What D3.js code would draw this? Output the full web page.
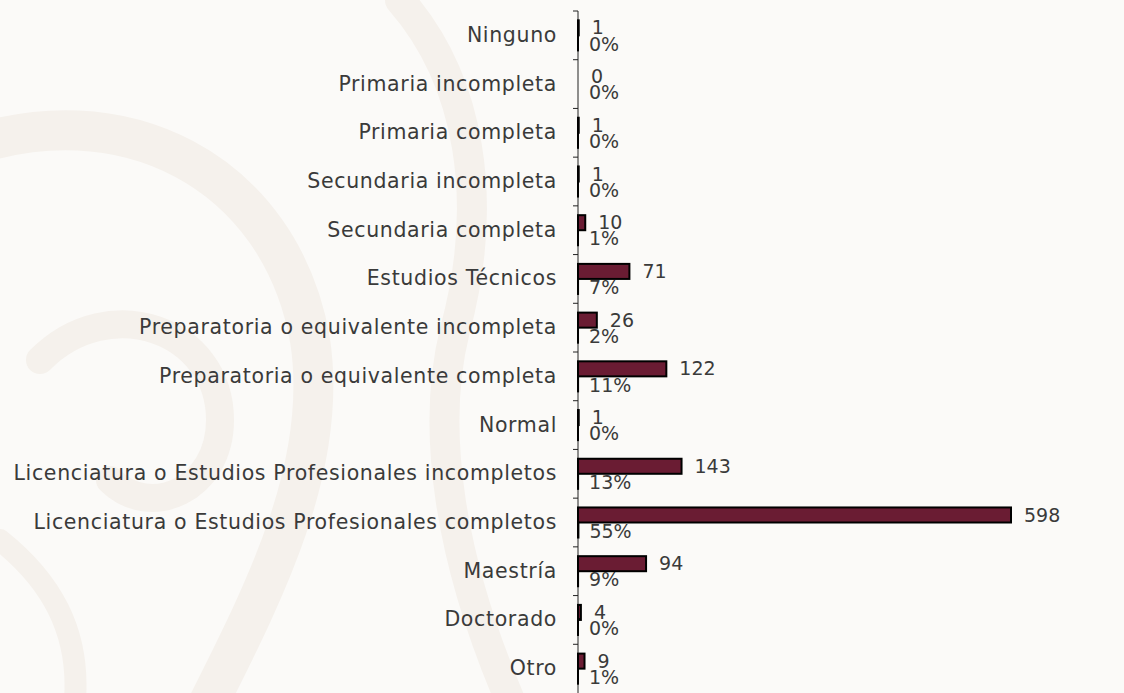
<!DOCTYPE html>
<html>
<head>
<meta charset="utf-8">
<script src="https://cdn.jsdelivr.net/npm/d3@7"></script>
<style>
  body { margin: 0; background: #fbfaf8; }
  svg { display: block; }
</style>
</head>
<body>
<div id="chart"></div>
<script>
const CATEGORIES = ['Ninguno', 'Primaria incompleta', 'Primaria completa',
                    'Secundaria incompleta', 'Secundaria completa', 'Estudios Técnicos',
                    'Preparatoria o equivalente incompleta', 'Preparatoria o equivalente completa',
                    'Normal', 'Licenciatura o Estudios Profesionales incompletos',
                    'Licenciatura o Estudios Profesionales completos', 'Maestría',
                    'Doctorado', 'Otro'];
const COUNTS = [1, 0, 1, 1, 10, 71, 26, 122, 1, 143, 598, 94, 4, 9];
const SHARES = [0.001, 0, 0.001, 0.001, 0.009, 0.066, 0.024, 0.113, 0.001, 0.132, 0.553, 0.087, 0.004, 0.008];
const SERIES = ['count', 'share'];
const BAR_COLOUR = "#6a1c33";
const TEXT_COLOUR = "#3a3a3a";
const FONT = "'DejaVu Sans', sans-serif";

var width = 1124, height = 693;
var margin = {top: 11, right: 60, bottom: 0, left: 578};

var svg = d3.select("#chart")
  .append("svg")
    .attr("width", width)
    .attr("height", height);

// faint background ornament
var deco = svg.append("g")
    .attr("fill", "none")
    .attr("stroke", "#f5f1ec")
    .attr("stroke-linecap", "round");
deco.append("path").attr("stroke-width", 40)
    .attr("d", "M -40 150 C 120 90, 280 170, 310 340 C 330 470, 260 600, 200 720");
deco.append("path").attr("stroke-width", 28)
    .attr("d", "M 40 360 C 110 290, 220 330, 220 420 C 220 490, 150 520, 110 480");
deco.append("path").attr("stroke-width", 30)
    .attr("d", "M 400 0 C 470 80, 490 200, 455 330 C 430 430, 450 560, 510 700");
deco.append("path").attr("stroke-width", 22)
    .attr("d", "M 0 540 C 50 580, 80 630, 75 700");

var x = d3.scaleLinear()
    .domain([0, 598])
    .range([margin.left, 1011]);

var y = d3.scaleBand()
    .domain(CATEGORIES)
    .range([margin.top, height])
    .padding(0);

var ySub = d3.scaleBand()
    .domain(SERIES)
    .range([0, y.bandwidth()])
    .paddingInner(0)
    .paddingOuter(0.62);

// category labels
var yAxis = svg.append("g")
    .attr("transform", "translate(" + margin.left + ",0)")
    .call(d3.axisLeft(y).tickSize(0).tickPadding(21));
yAxis.select(".domain").remove();
yAxis.selectAll("text")
    .attr("font-family", FONT)
    .attr("font-size", "20.5px")
    .attr("letter-spacing", "0.65px")
    .attr("fill", TEXT_COLOUR);

// axis line and ticks at category boundaries
svg.append("line")
    .attr("x1", margin.left).attr("x2", margin.left)
    .attr("y1", margin.top).attr("y2", height)
    .attr("stroke", "#222").attr("stroke-width", 1);
var bounds = CATEGORIES.map(function(c) { return y(c); });
svg.append("g")
  .selectAll("line")
  .data(bounds)
  .enter()
  .append("line")
    .attr("x1", margin.left - 5).attr("x2", margin.left)
    .attr("y1", function(d) { return d; })
    .attr("y2", function(d) { return d; })
    .attr("stroke", "#222").attr("stroke-width", 1);

var rows = CATEGORIES.map(function(c, i) {
  return {cat: c, count: COUNTS[i], share: SHARES[i]};
});

// count bars
svg.append("g")
  .selectAll("rect")
  .data(rows)
  .enter()
  .append("rect")
    .attr("x", x(0))
    .attr("y", function(d) { return y(d.cat) + ySub('count'); })
    .attr("width", function(d) { return x(d.count) - x(0); })
    .attr("height", ySub.bandwidth())
    .attr("fill", BAR_COLOUR)
    .attr("stroke", "#000")
    .attr("stroke-width", 2);

// share bars (same axis, so they stay hairline thin)
svg.append("g")
  .selectAll("rect")
  .data(rows)
  .enter()
  .append("rect")
    .attr("x", x(0))
    .attr("y", function(d) { return y(d.cat) + ySub('share'); })
    .attr("width", function(d) { return x(d.share) - x(0); })
    .attr("height", ySub.bandwidth())
    .attr("fill", "#000")
    .attr("stroke", "#000")
    .attr("stroke-width", 2);

var fmtPct = d3.format(".0%");

svg.append("g")
  .selectAll("text")
  .data(rows)
  .enter()
  .append("text")
    .attr("x", function(d) { return x(d.count) + 13; })
    .attr("y", function(d) { return y(d.cat) + ySub('count') + ySub.bandwidth() / 2; })
    .attr("dy", "0.35em")
    .attr("font-family", FONT)
    .attr("font-size", "19px")
    .attr("fill", TEXT_COLOUR)
    .text(function(d) { return d.count; });

svg.append("g")
  .selectAll("text")
  .data(rows)
  .enter()
  .append("text")
    .attr("x", function(d) { return x(d.share) + 11; })
    .attr("y", function(d) { return y(d.cat) + ySub('share') + ySub.bandwidth() / 2 + 1; })
    .attr("dy", "0.35em")
    .attr("font-family", FONT)
    .attr("font-size", "19px")
    .attr("fill", TEXT_COLOUR)
    .text(function(d) { return fmtPct(d.share); });
</script>
</body>
</html>
